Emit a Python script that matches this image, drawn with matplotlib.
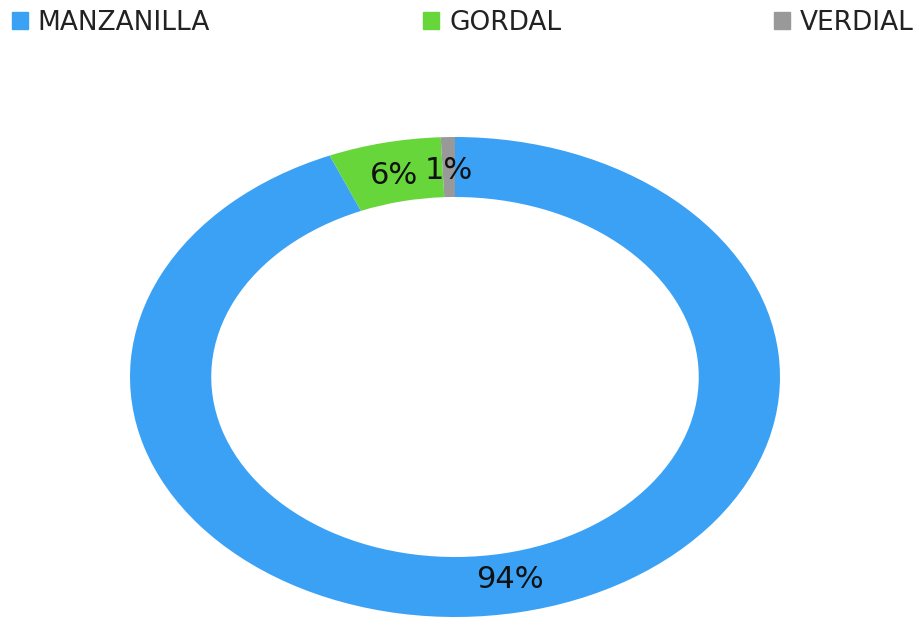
import matplotlib.pyplot as plt
from matplotlib.patches import Patch

# olive varieties share (%)
varieties = ['MANZANILLA', 'GORDAL', 'VERDIAL']
shares = [93.7, 5.6, 0.7]
colors = ['#3BA1F5', '#66D63A', '#999999']

plt.rcParams['font.family'] = ['DejaVu Sans']

fig = plt.figure(figsize=(9.21, 6.19), dpi=100)
ax = fig.add_axes([130 / 921, 2 / 619, 650 / 921, 480 / 619])

wedges, texts, autotexts = ax.pie(
    shares, colors=colors, startangle=90, counterclock=False,
    autopct='%.0f%%', pctdistance=0.86,
    wedgeprops=dict(width=0.25, linewidth=0),
    textprops=dict(fontsize=22, color='#111111'))
ax.set_aspect('auto')
ax.set_xlim(-1, 1)
ax.set_ylim(-1, 1)

handles = [Patch(color=c, label=v) for v, c in zip(varieties, colors)]
fig.legend(handles=handles, loc='upper left',
           bbox_to_anchor=(12 / 921, 1 - 42 / 619, 902 / 921, 32 / 619),
           mode='expand', ncol=3, frameon=False, fontsize=19,
           handlelength=0.6, handleheight=0.6, handletextpad=0.38,
           borderaxespad=0, borderpad=0, labelcolor='#222222')

plt.savefig('out.png')
